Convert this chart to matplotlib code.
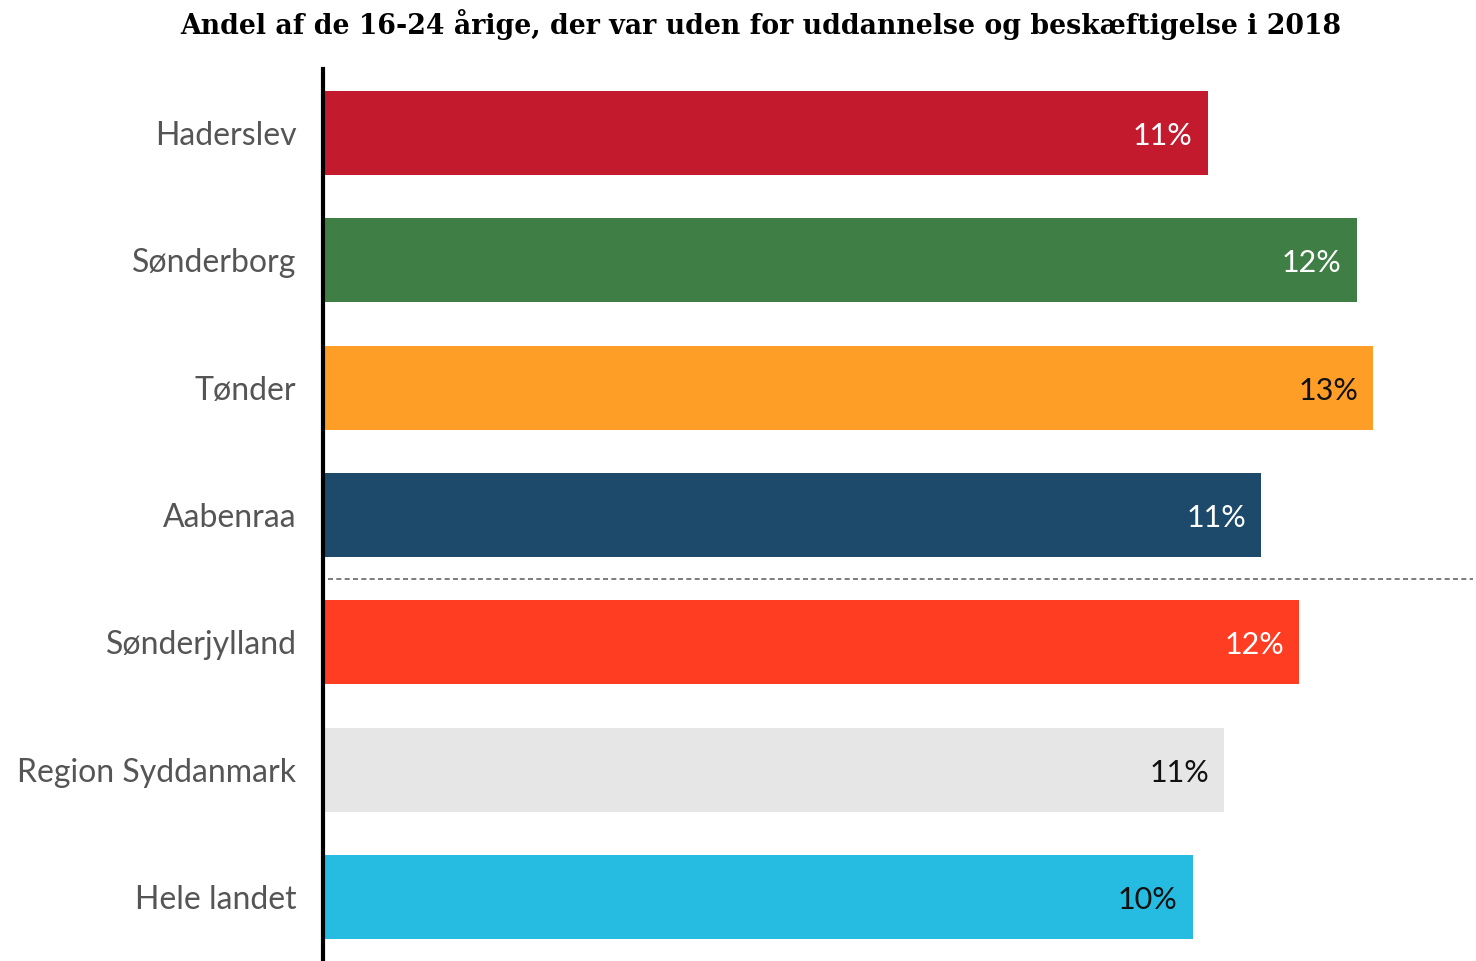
import matplotlib
matplotlib.use("Agg")
import matplotlib.pyplot as plt
from matplotlib.transforms import offset_copy

categories = ["Haderslev", "Sønderborg", "Tønder", "Aabenraa",
              "Sønderjylland", "Region Syddanmark", "Hele landet"]
values = [10.55, 12.33, 12.53, 11.19, 11.64, 10.75, 10.37]
value_labels = ["11%", "12%", "13%", "11%", "12%", "11%", "10%"]
colors = ["#C41A2E", "#3F7E45", "#FF9E27", "#1D4A6B",
          "#FF3D23", "#E6E6E6", "#26BBE0"]
text_colors = ["white", "white", "#111111", "white", "white", "#111111", "#111111"]
title = "Andel af de 16-24 årige, der var uden for uddannelse og beskæftigelse i 2018"

W, H = 1476, 961
fig = plt.figure(figsize=(W / 100, H / 100), dpi=100)
ax = fig.add_axes([323 / W, 0.0, (W - 323) / W, 1 - 69 / H])

y = list(range(len(categories)))
off = 0.024
ax.barh(y, values, height=0.66, color=colors, left=off)
ax.set_ylim(len(categories) - 0.5, -0.5)
ax.set_xlim(0, 13.78)

for s in ["top", "right", "bottom"]:
    ax.spines[s].set_visible(False)
ax.spines["left"].set_linewidth(3)
ax.spines["left"].set_color("#000000")
ax.set_xticks([])
ax.set_yticks(y)
ax.set_yticklabels(categories, fontsize=23, color="#555555", family="Lato")
ax.tick_params(axis="y", length=0, pad=19)

for yi, v, lab, tc in zip(y, values, value_labels, text_colors):
    tr = offset_copy(ax.transData, fig=fig, x=-15, y=-3, units="dots")
    ax.text(v + off, yi, lab, transform=tr, ha="right", va="center",
            fontsize=22, color=tc, family="Lato")

ax.axhline(3.5, xmin=0.004, xmax=0.997, color="#666666", linewidth=1.2,
           linestyle=(0, (3, 2)))

fig.text(761 / W, 1 - 25 / H, title, ha="center", va="center",
         fontsize=19.3, fontweight="bold", family="DejaVu Serif")

fig.savefig("out.png", dpi=100, facecolor="white")
